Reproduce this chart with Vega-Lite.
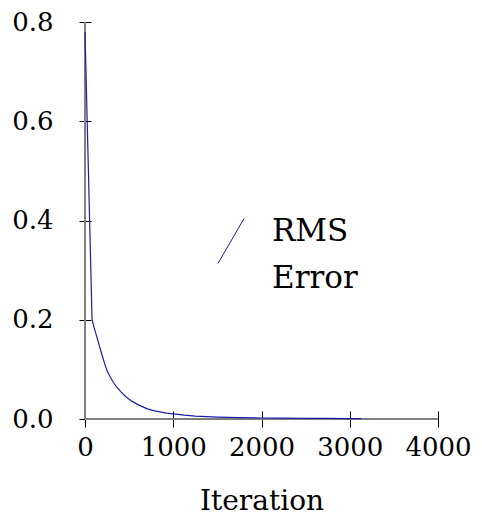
{
  "$schema": "https://vega.github.io/schema/vega-lite/v6.json",
  "width": 353,
  "height": 397,
  "autosize": {"type": "none"},
  "padding": {"left": 85, "top": 22, "right": 44, "bottom": 99},
  "background": "white",
  "config": {
    "view": {"stroke": null},
    "font": "DejaVu Serif",
    "style": {"guide-label": {"lineHeight": 47}},
    "axisX": {
      "offset": -8, "tickSize": 16, "domain": false, "grid": false,
      "labelPadding": 7, "labelFontSize": 26, "labelColor": "black", "labelFont": "DejaVu Serif",
      "labelFlush": false, "labelOverlap": false,
      "tickColor": "black", "tickWidth": 1,
      "titleFontSize": 28, "titleFontWeight": "normal", "titleColor": "black", "titlePadding": 27, "titleFont": "DejaVu Serif"
    },
    "axisY": {
      "offset": -6, "tickSize": 12, "domain": false, "grid": false,
      "labelPadding": 26, "labelFontSize": 26, "labelColor": "black", "labelFont": "DejaVu Serif",
      "labelFlush": false, "labelOverlap": false,
      "tickColor": "black", "tickWidth": 1
    }
  },
  "data": {
    "values": [
      {"iteration": 0, "rms": 0.78, "series": "RMS Error"},
      {"iteration": 80, "rms": 0.2, "series": "RMS Error"},
      {"iteration": 100, "rms": 0.186, "series": "RMS Error"},
      {"iteration": 130, "rms": 0.168, "series": "RMS Error"},
      {"iteration": 160, "rms": 0.149, "series": "RMS Error"},
      {"iteration": 190, "rms": 0.131, "series": "RMS Error"},
      {"iteration": 220, "rms": 0.113, "series": "RMS Error"},
      {"iteration": 250, "rms": 0.097, "series": "RMS Error"},
      {"iteration": 285, "rms": 0.085, "series": "RMS Error"},
      {"iteration": 320, "rms": 0.074, "series": "RMS Error"},
      {"iteration": 365, "rms": 0.063, "series": "RMS Error"},
      {"iteration": 410, "rms": 0.054, "series": "RMS Error"},
      {"iteration": 470, "rms": 0.044, "series": "RMS Error"},
      {"iteration": 530, "rms": 0.036, "series": "RMS Error"},
      {"iteration": 600, "rms": 0.029, "series": "RMS Error"},
      {"iteration": 700, "rms": 0.021, "series": "RMS Error"},
      {"iteration": 775, "rms": 0.017, "series": "RMS Error"},
      {"iteration": 850, "rms": 0.0145, "series": "RMS Error"},
      {"iteration": 925, "rms": 0.012, "series": "RMS Error"},
      {"iteration": 1000, "rms": 0.0105, "series": "RMS Error"},
      {"iteration": 1125, "rms": 0.0078, "series": "RMS Error"},
      {"iteration": 1250, "rms": 0.0058, "series": "RMS Error"},
      {"iteration": 1375, "rms": 0.0047, "series": "RMS Error"},
      {"iteration": 1500, "rms": 0.0038, "series": "RMS Error"},
      {"iteration": 1750, "rms": 0.0027, "series": "RMS Error"},
      {"iteration": 2000, "rms": 0.002, "series": "RMS Error"},
      {"iteration": 2250, "rms": 0.0016, "series": "RMS Error"},
      {"iteration": 2500, "rms": 0.0013, "series": "RMS Error"},
      {"iteration": 2750, "rms": 0.0011, "series": "RMS Error"},
      {"iteration": 3000, "rms": 0.0009, "series": "RMS Error"},
      {"iteration": 3130, "rms": 0.0008, "series": "RMS Error"}
    ]
  },
  "layer": [
    {
      "data": {"values": [{"k": 1}]},
      "mark": {"type": "rule", "color": "#808080", "strokeWidth": 2},
      "encoding": {
        "x": {"datum": 0, "type": "quantitative"},
        "y": {"datum": 0, "type": "quantitative"},
        "y2": {"datum": 0.8}
      }
    },
    {
      "data": {"values": [{"k": 1}]},
      "mark": {"type": "rule", "color": "#808080", "strokeWidth": 2},
      "encoding": {
        "x": {"datum": 0, "type": "quantitative"},
        "x2": {"datum": 4000},
        "y": {"datum": 0, "type": "quantitative"}
      }
    },
    {
      "mark": {"type": "line", "strokeWidth": 1.2},
      "encoding": {
        "x": {
          "field": "iteration", "type": "quantitative", "title": "Iteration",
          "scale": {"domain": [0, 4000], "nice": false},
          "axis": {"values": [0, 1000, 2000, 3000, 4000], "format": "d"}
        },
        "y": {
          "field": "rms", "type": "quantitative", "title": null,
          "scale": {"domain": [0, 0.8], "nice": false},
          "axis": {"values": [0, 0.2, 0.4, 0.6, 0.8], "format": ".1f"}
        },
        "color": {
          "field": "series", "type": "nominal",
          "scale": {"range": ["#1c1ca6"]},
          "legend": {
            "title": null,
            "orient": "none",
            "legendX": 123,
            "legendY": 196,
            "padding": 0,
            "symbolType": "M-0.58,1L0.58,-1",
            "symbolSize": 2025,
            "symbolStrokeWidth": 1,
            "labelOffset": 18,
            "labelFontSize": 31,
            "labelFont": "DejaVu Serif",
            "labelBaseline": "alphabetic",
            "labelColor": "black",
            "labelLimit": 300,
            "labelExpr": "['RMS', 'Error']"
          }
        }
      }
    }
  ]
}
